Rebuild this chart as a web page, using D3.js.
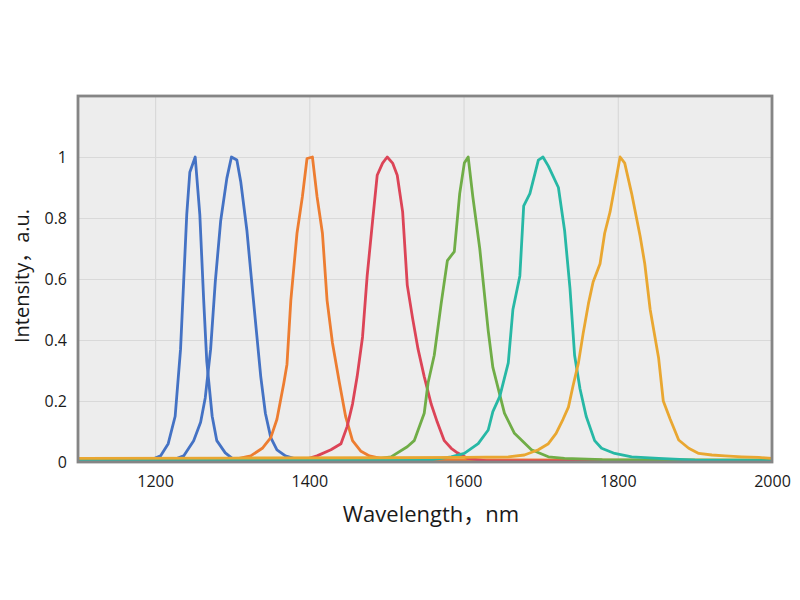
<!DOCTYPE html>
<html>
<head>
<meta charset="utf-8">
<script src="https://cdn.jsdelivr.net/npm/d3@7"></script>
<style>
  body { margin: 0; background: #fff; }
  text { font-family: "Open Sans", "Noto Sans CJK SC", sans-serif; fill: #1a1a1a; }
</style>
</head>
<body>
<div id="chart"></div>
<script>
// wavelength (nm), intensity (a.u.) pairs
const peak1250 = [[1100,0.004],[1150,0.005],[1195,0.007],[1207,0.02],[1217,0.06],[1226,0.15],[1233,0.37],[1237,0.59],[1241,0.81],[1245,0.95],[1252,1.0],[1258,0.81],[1263,0.53],[1267,0.33],[1274,0.15],[1280,0.07],[1291,0.03],[1300,0.012],[1320,0.004],[1400,0.002],[2000,0.002]];
const peak1300 = [[1100,0.002],[1220,0.004],[1237,0.02],[1250,0.07],[1259,0.13],[1265,0.21],[1272,0.37],[1278,0.59],[1285,0.79],[1293,0.93],[1299,1.0],[1306,0.99],[1311,0.92],[1319,0.76],[1326,0.57],[1337,0.28],[1343,0.16],[1350,0.08],[1358,0.04],[1369,0.02],[1385,0.008],[1450,0.003],[2000,0.002]];
const peak1400 = [[1100,0.005],[1300,0.007],[1324,0.02],[1339,0.045],[1350,0.08],[1358,0.14],[1367,0.26],[1371,0.32],[1376,0.53],[1384,0.75],[1391,0.87],[1397,0.995],[1404,1.0],[1410,0.87],[1417,0.75],[1423,0.53],[1430,0.39],[1439,0.26],[1447,0.15],[1456,0.07],[1467,0.035],[1478,0.02],[1500,0.008],[2000,0.005]];
const peak1500 = [[1100,0.003],[1390,0.005],[1410,0.02],[1428,0.04],[1441,0.06],[1449,0.116],[1456,0.19],[1462,0.28],[1469,0.41],[1475,0.61],[1482,0.79],[1488,0.94],[1495,0.98],[1501,1.0],[1508,0.98],[1514,0.94],[1521,0.82],[1527,0.58],[1534,0.47],[1541,0.37],[1549,0.28],[1558,0.19],[1566,0.13],[1575,0.07],[1584,0.045],[1592,0.03],[1605,0.012],[1630,0.004],[2000,0.003]];
const peak1600 = [[1100,0.007],[1480,0.008],[1506,0.017],[1527,0.05],[1536,0.07],[1549,0.16],[1554,0.26],[1562,0.35],[1571,0.52],[1579,0.66],[1588,0.69],[1595,0.88],[1601,0.98],[1606,1.0],[1612,0.87],[1621,0.70],[1632,0.43],[1638,0.31],[1653,0.16],[1666,0.094],[1688,0.04],[1710,0.017],[1731,0.012],[1780,0.008],[2000,0.007]];
const peak1700 = [[1100,0.004],[1560,0.008],[1584,0.017],[1601,0.028],[1619,0.06],[1632,0.105],[1638,0.165],[1647,0.215],[1658,0.325],[1664,0.5],[1673,0.61],[1678,0.84],[1686,0.88],[1697,0.99],[1703,1.0],[1710,0.97],[1723,0.90],[1731,0.76],[1738,0.57],[1744,0.35],[1751,0.24],[1759,0.15],[1770,0.07],[1779,0.045],[1796,0.028],[1818,0.017],[1853,0.012],[1900,0.006],[2000,0.004]];
const peak1800 = [[1100,0.012],[1300,0.013],[1500,0.014],[1600,0.015],[1658,0.017],[1679,0.023],[1697,0.04],[1710,0.06],[1720,0.094],[1729,0.14],[1736,0.18],[1742,0.25],[1749,0.325],[1755,0.42],[1762,0.52],[1768,0.59],[1777,0.65],[1783,0.75],[1790,0.82],[1803,1.0],[1809,0.98],[1818,0.88],[1829,0.74],[1835,0.65],[1842,0.5],[1853,0.34],[1859,0.20],[1868,0.14],[1879,0.072],[1892,0.045],[1905,0.028],[1922,0.023],[1939,0.02],[1961,0.017],[1983,0.015],[2000,0.012]];

const seriesList = [peak1250, peak1300, peak1400, peak1500, peak1600, peak1700, peak1800];
const seriesColors = ["#4472c4", "#4472c4", "#ed7d31", "#dc4457", "#70ad47", "#27b8a5", "#e9a731"];

const xTicks = [1200, 1400, 1600, 1800, 2000];
const yTicks = [0, 0.2, 0.4, 0.6, 0.8, 1];
const yTickLabels = ["0", "0.2", "0.4", "0.6", "0.8", "1"];

const margin = { top: 96, right: 28, bottom: 138, left: 78 },
    width = 800 - margin.left - margin.right,
    height = 600 - margin.top - margin.bottom;

const svg = d3.select("#chart")
    .append("svg")
    .attr("width", 800)
    .attr("height", 600)
    .append("g")
    .attr("transform", `translate(${margin.left},${margin.top})`);

const x = d3.scaleLinear().domain([1100, 2000]).range([0, width]);
const y = d3.scaleLinear().domain([0, 1.2]).range([height, 0]);

// plot background
svg.append("rect")
    .attr("width", width)
    .attr("height", height)
    .attr("fill", "#ededed");

// gridlines
svg.append("g")
    .attr("transform", `translate(0,${height})`)
    .call(d3.axisBottom(x).tickValues(xTicks).tickSize(-height).tickFormat(""))
    .call(g => g.select(".domain").remove())
    .call(g => g.selectAll("line").attr("stroke", "#d9d9d9").attr("stroke-width", 1.2));

svg.append("g")
    .call(d3.axisLeft(y).tickValues(yTicks.slice(1)).tickSize(-width).tickFormat(""))
    .call(g => g.select(".domain").remove())
    .call(g => g.selectAll("line").attr("stroke", "#d9d9d9").attr("stroke-width", 1.2));

// lines
const line = d3.line()
    .x(d => x(d[0]))
    .y(d => y(d[1]));

svg.selectAll(".spec")
    .data(seriesList)
    .enter().append("path")
    .attr("class", "spec")
    .attr("d", line)
    .attr("fill", "none")
    .attr("stroke", (d, i) => seriesColors[i])
    .attr("stroke-width", 2.8)
    .attr("stroke-linejoin", "round");

// frame
svg.append("rect")
    .attr("width", width)
    .attr("height", height)
    .attr("fill", "none")
    .attr("stroke", "#858585")
    .attr("stroke-width", 2.8);

// tick labels
const xAxis = svg.append("g")
    .attr("transform", `translate(0,${height})`)
    .call(d3.axisBottom(x).tickValues(xTicks).tickSize(0).tickPadding(14).tickFormat(d3.format("d")));
xAxis.select(".domain").remove();
xAxis.selectAll("text").attr("font-size", 16).style("font-family", "'Open Sans', sans-serif").attr("fill", "#1a1a1a");

const yAxis = svg.append("g")
    .call(d3.axisLeft(y).tickValues(yTicks).tickSize(0).tickPadding(11)
        .tickFormat((d, i) => yTickLabels[i]));
yAxis.select(".domain").remove();
yAxis.selectAll("text").attr("font-size", 16).style("font-family", "'Open Sans', sans-serif").attr("fill", "#1a1a1a");

// axis titles
svg.append("text")
    .attr("x", width / 2 + 6)
    .attr("y", height + 60)
    .attr("text-anchor", "middle")
    .attr("font-size", 22)
    .text("Wavelength，nm");

svg.append("text")
    .attr("transform", "rotate(-90)")
    .attr("x", -height / 2 + 3)
    .attr("y", -margin.left + 29)
    .attr("text-anchor", "middle")
    .attr("font-size", 20)
    .text("Intensity，a.u.");
</script>
</body>
</html>
